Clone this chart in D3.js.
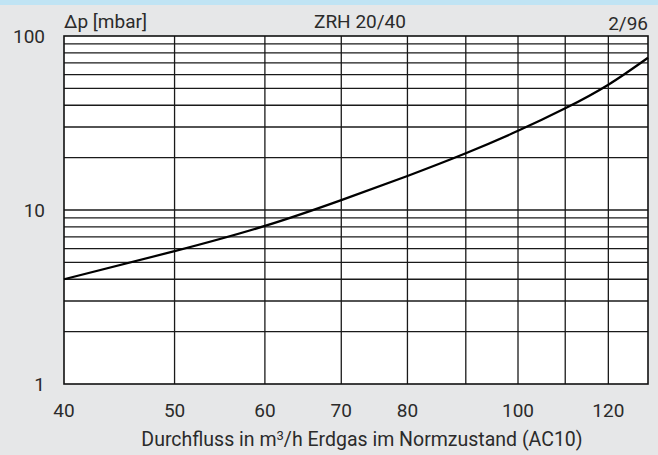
<!DOCTYPE html>
<html>
<head>
<meta charset="utf-8">
<script src="https://cdn.jsdelivr.net/npm/d3@7"></script>
<style>
  html, body { margin: 0; padding: 0; background: #e6e7e8; }
  svg { display: block; }
  text { font-family: Roboto, "Open Sans", sans-serif; fill: #2b2b2b; }
</style>
</head>
<body>
<svg id="chart" width="658" height="455"></svg>
<script>
// Data
const flow = [40, 50, 60, 70, 80, 90, 100, 110, 120, 130];
const dp   = [4.0, 5.8, 8.1, 11.4, 15.7, 21.2, 28.5, 38.4, 52.5, 75];
const xTicks = [40, 50, 60, 70, 80, 100, 120];
const xGrid = [50, 60, 70, 80, 90, 100, 110, 120];
const yTicks = [1, 10, 100];
const yGrid = [2,3,4,5,6,7,8,9,10,20,30,40,50,60,70,80,90];
const title = "ZRH 20/40";
const yLabel = "Δp [mbar]";
const dateLabel = "2/96";

const svg = d3.select("#chart");
const W = 658, H = 455;
const m = {left: 64, right: 10, top: 36, bottom: 71};

svg.append("rect").attr("x",0).attr("y",0).attr("width",W).attr("height",H).attr("fill","#e6e7e8");
svg.append("rect").attr("x",0).attr("y",0).attr("width",W).attr("height",5).attr("fill","#c0e4f4");

const x = d3.scaleLog().domain([40, 130]).range([m.left, W - m.right]);
const y = d3.scaleLog().domain([1, 100]).range([H - m.bottom, m.top]);

svg.append("rect")
  .attr("x", m.left).attr("y", m.top)
  .attr("width", x.range()[1] - m.left).attr("height", y.range()[0] - m.top)
  .attr("fill", "#ffffff");

const g = svg.append("g");
g.selectAll("line.h").data(yGrid).join("line")
  .attr("x1", m.left).attr("x2", x.range()[1])
  .attr("y1", d => y(d)).attr("y2", d => y(d))
  .attr("stroke", "#1a1a1a").attr("stroke-width", 1.3);
g.selectAll("line.v").data(xGrid).join("line")
  .attr("y1", m.top).attr("y2", y.range()[0])
  .attr("x1", d => x(d)).attr("x2", d => x(d))
  .attr("stroke", "#1a1a1a").attr("stroke-width", 1.3);

svg.append("rect")
  .attr("x", m.left).attr("y", m.top)
  .attr("width", x.range()[1] - m.left).attr("height", y.range()[0] - m.top)
  .attr("fill", "none").attr("stroke", "#111").attr("stroke-width", 1.6);

const line = d3.line().x((d,i) => x(flow[i])).y(d => y(d)).curve(d3.curveNatural);
svg.append("path").datum(dp).attr("d", line)
  .attr("fill", "none").attr("stroke", "#000").attr("stroke-width", 2.2);

// axes labels
svg.selectAll("text.yt").data(yTicks).join("text")
  .attr("x", 45).attr("y", d => y(d) + 7)
  .attr("text-anchor", "end").attr("font-size", 19).text(d => d);

svg.selectAll("text.xt").data(xTicks).join("text")
  .attr("x", d => x(d)).attr("y", 417)
  .attr("text-anchor", "middle").attr("font-size", 19).text(d => d);

svg.append("text").attr("x", 64).attr("y", 28).attr("font-size", 19).text(yLabel);
svg.append("text").attr("x", 360).attr("y", 28).attr("text-anchor","middle").attr("font-size", 19).text(title);
svg.append("text").attr("x", 648).attr("y", 30).attr("text-anchor","end").attr("font-size", 19).text(dateLabel);

const cap = svg.append("text").attr("x", 362).attr("y", 446).attr("text-anchor","middle").attr("font-size", 19.5);
cap.append("tspan").text("Durchfluss in m");
cap.append("tspan").attr("font-size", 13).attr("dy", -6).text("3");
cap.append("tspan").attr("dy", 6).text("/h Erdgas im Normzustand (AC10)");
</script>
</body>
</html>
